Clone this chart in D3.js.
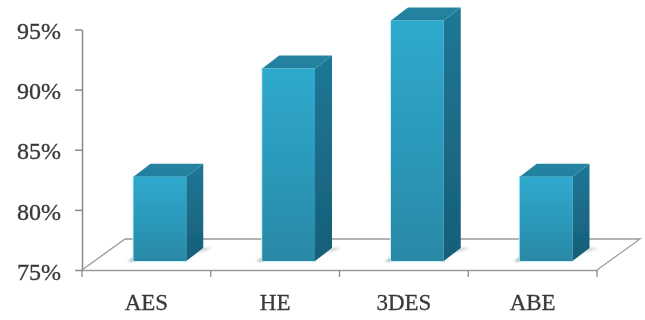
<!DOCTYPE html>
<html>
<head>
<meta charset="utf-8">
<script src="https://cdn.jsdelivr.net/npm/d3@7"></script>
<style>
html,body{margin:0;padding:0;background:#fff;overflow:hidden}
svg{display:block}
text{font-family:"Liberation Serif",serif;fill:#3a3a3a}
</style>
</head>
<body>
<svg id="chart" width="645" height="320"></svg>
<script>
const categories = ["AES", "HE", "3DES", "ABE"];
const values = [82, 91, 95, 82];
const yTicks = [75, 80, 85, 90, 95];

const W = 645, H = 320;
const axisX = 82, axisRight = 597, axisBottom = 270, axisTop = 29.5;
const floorDx = 43, floorDy = 31;       // floor depth
const barLift = 9, barShift = 13.5;     // bars stand in the middle of the floor
const depthX = 17, depthY = 13;         // bar depth

const svg = d3.select("#chart");
const defs = svg.append("defs");

const soft = defs.append("filter").attr("id", "soft")
  .attr("filterUnits", "userSpaceOnUse")
  .attr("x", 0).attr("y", 0).attr("width", W).attr("height", H);
soft.append("feGaussianBlur").attr("stdDeviation", 0.6);

const shadowBlur = defs.append("filter").attr("id", "shadowBlur");
shadowBlur.append("feGaussianBlur").attr("stdDeviation", 1.3);

function grad(id, stops, x2, y2) {
  const g = defs.append("linearGradient").attr("id", id)
    .attr("x1", 0).attr("y1", 0).attr("x2", x2).attr("y2", y2);
  stops.forEach(([o, c]) => g.append("stop").attr("offset", o).attr("stop-color", c));
}
grad("front", [[0, "#2fa9ce"], [0.55, "#2b98b9"], [1, "#2a88a6"]], 0, 1);
grad("side",  [[0, "#1f7796"], [1, "#175f79"]], 0, 1);
grad("top",   [[0, "#25839f"], [1, "#23809f"]], 0, 1);

const root = svg.append("g").attr("filter", "url(#soft)");

const x = d3.scaleBand().domain(categories).range([axisX, axisRight]);
const y = d3.scaleLinear().domain([75, 95]).range([axisBottom, axisTop]);
const barW = x.bandwidth() * 0.41;
const barLeft = c => x(c) + x.bandwidth() / 2 + barShift - barW / 2;
const barTop = v => y(v) - barLift;
const barBase = y(75) - barLift;

// floor
const floor = root.append("g").attr("fill", "none").attr("stroke", "#9b9b9b").attr("stroke-width", 1.3);
floor.append("path").attr("d", d3.line()([
  [axisX, axisBottom], [axisX + floorDx, axisBottom - floorDy],
  [axisRight + floorDx, axisBottom - floorDy], [axisRight, axisBottom]
]));

// y axis
const yAxis = root.append("g").attr("transform", `translate(${axisX},0)`)
  .call(d3.axisLeft(y).tickValues(yTicks).tickFormat(d => d + "%").tickSize(7).tickPadding(14).tickSizeOuter(0));
yAxis.selectAll("path,line").attr("stroke", "#8a8a8a").attr("stroke-width", 1.5);
yAxis.selectAll("text").attr("font-size", 24)
  .style("font-family", '"Liberation Serif",serif').attr("fill", "#3a3a3a")
  .attr("stroke", "#3a3a3a").attr("stroke-width", 0.35).attr("dy", "0.38em");

// x axis
const xAxis = root.append("g").attr("transform", `translate(0,${axisBottom})`)
  .call(d3.axisBottom(x).tickSize(0).tickPadding(24));
xAxis.select("path").attr("stroke", "#9b9b9b").attr("stroke-width", 1.4);
xAxis.selectAll("text").attr("font-size", 23)
  .style("font-family", '"Liberation Serif",serif').attr("fill", "#3a3a3a")
  .attr("stroke", "#3a3a3a").attr("stroke-width", 0.3);
xAxis.selectAll("line").remove();
xAxis.selectAll("line.edge").data(d3.range(categories.length + 1)).enter().append("line")
  .attr("class", "edge")
  .attr("x1", i => axisX + i * x.step()).attr("x2", i => axisX + i * x.step())
  .attr("y1", 0).attr("y2", 7)
  .attr("stroke", "#8a8a8a").attr("stroke-width", 1.3);

// bars
const bars = root.selectAll("g.bar").data(categories.map((c, i) => ({c, v: values[i]}))).enter()
  .append("g").attr("class", "bar");

const line = d3.line();
bars.append("path").attr("filter", "url(#shadowBlur)").attr("fill", "#8a9296").attr("opacity", 0.45)
  .attr("d", d => line([
    [barLeft(d.c) + barW, barBase - 1], [barLeft(d.c) + barW + depthX, barBase - depthY],
    [barLeft(d.c) + barW + depthX + 9, barBase - depthY], [barLeft(d.c) + barW + 8, barBase - 7]
  ]) + "Z");
bars.append("path").attr("filter", "url(#shadowBlur)").attr("fill", "#5f6c70").attr("opacity", 0.55)
  .attr("d", d => line([
    [barLeft(d.c) - 6, barBase + 0.5], [barLeft(d.c) + 2, barBase - 5], [barLeft(d.c) + 2, barBase + 0.5]
  ]) + "Z");

// pale glow along the bar edge
bars.append("rect")
  .attr("x", d => barLeft(d.c) - 1).attr("y", d => barTop(d.v) - 1)
  .attr("width", barW + 2).attr("height", d => barBase - barTop(d.v) + 2)
  .attr("fill", "#c9f2f8");

bars.append("path").attr("fill", "url(#side)")
  .attr("d", d => line([
    [barLeft(d.c) + barW, barTop(d.v)], [barLeft(d.c) + barW + depthX, barTop(d.v) - depthY],
    [barLeft(d.c) + barW + depthX, barBase - depthY], [barLeft(d.c) + barW, barBase]
  ]) + "Z");
bars.append("path").attr("fill", "url(#top)")
  .attr("d", d => line([
    [barLeft(d.c), barTop(d.v)], [barLeft(d.c) + depthX, barTop(d.v) - depthY],
    [barLeft(d.c) + barW + depthX, barTop(d.v) - depthY], [barLeft(d.c) + barW, barTop(d.v)]
  ]) + "Z");
bars.append("rect").attr("fill", "url(#front)")
  .attr("x", d => barLeft(d.c)).attr("y", d => barTop(d.v))
  .attr("width", barW).attr("height", d => barBase - barTop(d.v));
</script>
</body>
</html>
